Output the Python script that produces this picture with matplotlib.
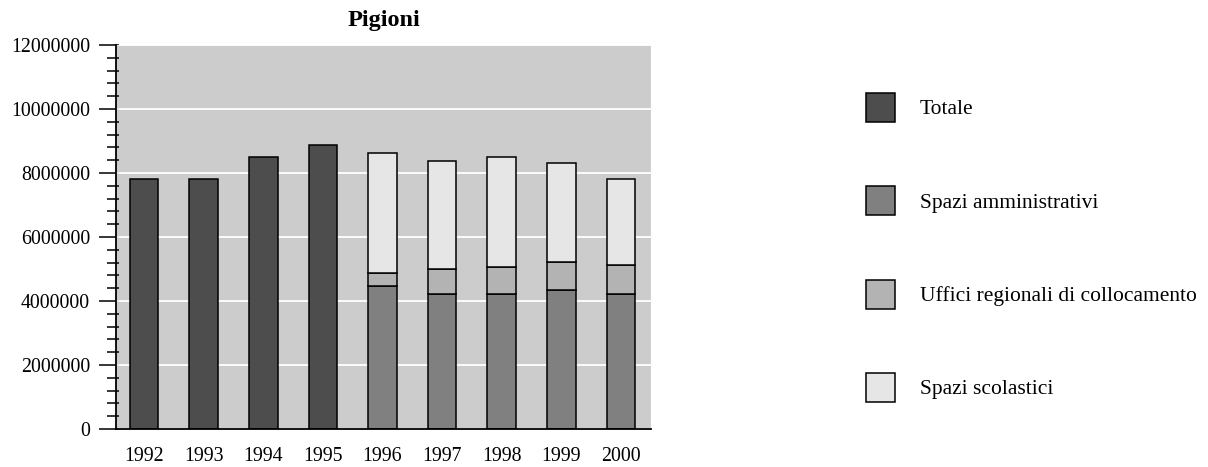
import matplotlib
matplotlib.use("Agg")
import matplotlib.pyplot as plt
import numpy as np
from matplotlib.patches import Patch
from matplotlib.ticker import MultipleLocator, FuncFormatter

plt.rcParams['font.family'] = ['Liberation Serif', 'DejaVu Serif']
plt.rcParams['font.size'] = 14.3

# Data
years = ['1992', '1993', '1994', '1995', '1996', '1997', '1998', '1999', '2000']
totale_years = ['1992', '1993', '1994', '1995']
totale = [7800000, 7800000, 8500000, 8875000]
split_years = ['1996', '1997', '1998', '1999', '2000']
spazi_amministrativi = [4470000, 4220000, 4230000, 4350000, 4220000]
uffici_regionali = [400000, 770000, 820000, 880000, 890000]
spazi_scolastici = [3740000, 3380000, 3450000, 3080000, 2690000]

labels = ['Totale', 'Spazi amministrativi', 'Uffici regionali di collocamento', 'Spazi scolastici']
colors = ['#4d4d4d', '#808080', '#b3b3b3', '#e6e6e6']

W, H = 1208, 467
fig = plt.figure(figsize=(W / 100, H / 100), dpi=100)
ax = fig.add_axes([116 / W, 1 - 429 / H, (651.5 - 116) / W, (429 - 45) / H])
ax.set_facecolor('#cccccc')

pos = {y: i for i, y in enumerate(years)}
xt = [pos[y] for y in totale_years]
xs = np.array([pos[y] for y in split_years])
bw = 0.48
lw = 1.1
ax.bar(xt, totale, width=bw, color=colors[0], edgecolor='black', linewidth=lw, zorder=3)
b1 = np.array(spazi_amministrativi)
b2 = b1 + np.array(uffici_regionali)
ax.bar(xs, spazi_amministrativi, width=bw, color=colors[1], edgecolor='black', linewidth=lw, zorder=3)
ax.bar(xs, uffici_regionali, bottom=b1, width=bw, color=colors[2], edgecolor='black', linewidth=lw, zorder=3)
ax.bar(xs, spazi_scolastici, bottom=b2, width=bw, color=colors[3], edgecolor='black', linewidth=lw, zorder=3)

ax.set_xlim(-0.47, 8.515)
ax.set_ylim(0, 12000000)
ax.set_xticks(range(len(years)))
ax.set_xticklabels(years)
ax.yaxis.set_major_locator(MultipleLocator(2000000))
ax.yaxis.set_minor_locator(MultipleLocator(400000))
ax.yaxis.set_major_formatter(FuncFormatter(lambda v, p: f"{int(round(v))}"))
ax.yaxis.grid(True, which='major', color='white', linewidth=1.3, zorder=1)
ax.set_axisbelow(True)

ax.tick_params(axis='x', length=0, pad=13)
ax.tick_params(axis='y', which='major', direction='out', length=12.2, width=1.1, pad=6.5)
ax.tick_params(axis='y', which='minor', direction='out', length=6.5, width=1.1)

ax.spines['top'].set_visible(False)
ax.spines['right'].set_color('white')
ax.spines['right'].set_linewidth(1.5)
ax.spines['left'].set_linewidth(1.3)
ax.spines['bottom'].set_linewidth(1.3)
ax.spines['left'].set_zorder(5)
ax.spines['bottom'].set_zorder(5)

# small inward tick parts
sec = ax.secondary_yaxis('left')
sec.yaxis.set_major_locator(MultipleLocator(400000))
sec.tick_params(axis='y', which='major', direction='in', length=2.2, width=1.1, labelleft=False)
sec.spines['left'].set_visible(False)

ax.set_title('Pigioni', fontweight='bold', fontsize=17.5, pad=13.5)

handles = [Patch(facecolor=c, edgecolor='black', linewidth=lw) for c in colors]
fs = 15.5
px = fs * 100 / 72
hh = (29 - 0.245 * px) / (0.65 * px)
fig.legend(handles, labels, loc='upper left', bbox_to_anchor=(866 / W, 1 - 93 / H),
           frameon=False, borderpad=0, borderaxespad=0, fontsize=fs,
           handlelength=29 / px, handleheight=hh, handletextpad=25 / px,
           labelspacing=(93.3 - 29) / px)

fig.savefig('out.png', dpi=100)
